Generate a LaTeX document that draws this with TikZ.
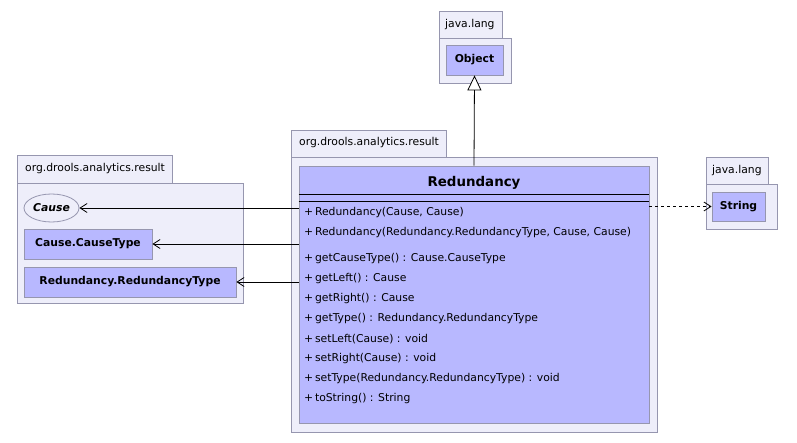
\documentclass[tikz,border=0pt]{standalone}
\usepackage{fontspec}
\setmainfont{DejaVu Sans}
\usetikzlibrary{shapes.geometric, arrows.meta}
\definecolor{pkgfill}{RGB}{238,238,250}
\definecolor{clsfill}{RGB}{184,184,255}
\definecolor{edgegray}{RGB}{150,150,175}
\tikzstyle{pkg} = [draw=edgegray, fill=pkgfill, line width=0.8pt]
\tikzstyle{cls} = [draw=edgegray, fill=clsfill, line width=0.8pt, inner sep=0pt, font=\bfseries\fontsize{10.8}{12}\selectfont]
\tikzstyle{lbl} = [anchor=west, inner sep=0pt, font=\fontsize{10.8}{12}\selectfont]
\tikzstyle{assoc} = [line width=0.8pt, -{Straight Barb[length=7pt,width=9pt]}]
\tikzstyle{dep} = [line width=0.8pt, dashed, -{Straight Barb[length=7pt,width=9pt]}]
\tikzstyle{inherit} = [line width=0.8pt, -{Triangle[open,fill=white,length=15pt,width=14pt]}]

\begin{document}
\begin{tikzpicture}[x=1pt,y=-1pt]
	\fill[white] (0,0) rectangle (797,443);
	\useasboundingbox (0,0) rectangle (797,443);

	% packages
	\draw[pkg] (439,11) rectangle (502,38);
	\draw[pkg] (439,38) rectangle (511,83);
	\node[lbl] (pkgobj) at (445,25) {java.lang};

	\draw[pkg] (291,130) rectangle (446,157);
	\draw[pkg] (291,157) rectangle (657,432);
	\node[lbl] (pkgmain) at (299,143) {org.drools.analytics.result};

	\draw[pkg] (17,155) rectangle (172,183);
	\draw[pkg] (17,183) rectangle (243,303);
	\node[lbl] (pkgleft) at (25,169) {org.drools.analytics.result};

	\draw[pkg] (706,157) rectangle (768,184);
	\draw[pkg] (706,184) rectangle (777,229);
	\node[lbl] (pkgstr) at (712,171) {java.lang};

	% classes
	\node[cls, minimum width=57pt, minimum height=30pt] (obj) at (474.5,60) {Object};
	\node[cls, minimum width=53pt, minimum height=29pt] (str) at (738.5,206.5) {String};
	\node[cls, ellipse, fill=pkgfill, minimum width=55pt, minimum height=28pt] (cause) at (51.5,208) {\itshape Cause};
	\node[cls, minimum width=128pt, minimum height=30pt] (ctype) at (88,244) {Cause.CauseType};
	\node[cls, minimum width=212pt, minimum height=30pt] (rtype) at (130,282) {Redundancy.RedundancyType};
	\node[cls, minimum width=350pt, minimum height=257pt] (red) at (474,294.5) {};

	\node[font=\bfseries\fontsize{13.4}{15}\selectfont] (title) at ([yshift=-17pt]red.north) {Redundancy};
	\draw[line width=0.8pt] ([yshift=-29pt]red.north west) -- ([yshift=-29pt]red.north east);
	\draw[line width=0.8pt] ([yshift=-36pt]red.north west) -- ([yshift=-36pt]red.north east);

	\foreach \y/\t in {213/{Redundancy(Cause, Cause)},
			233/{Redundancy(Redundancy.RedundancyType, Cause, Cause)},
			259/{getCauseType() : Cause.CauseType},
			279/{getLeft() : Cause},
			299/{getRight() : Cause},
			319/{getType() : Redundancy.RedundancyType},
			339/{setLeft(Cause) : void},
			359/{setRight(Cause) : void},
			379/{setType(Redundancy.RedundancyType) : void},
			399/{toString() : String}}{
		\node[lbl] at (304,\y) {+\,\t};
	}

	% connectors
	\draw[inherit] (red.north) -- (obj.south);
	\draw[assoc] (red.west |- cause.east) -- (cause.east);
	\draw[assoc] (red.west |- ctype.east) -- (ctype.east);
	\draw[assoc] (red.west |- rtype.east) -- (rtype.east);
	\draw[dep] (red.east |- str.west) -- (str.west);
\end{tikzpicture}
\end{document}
